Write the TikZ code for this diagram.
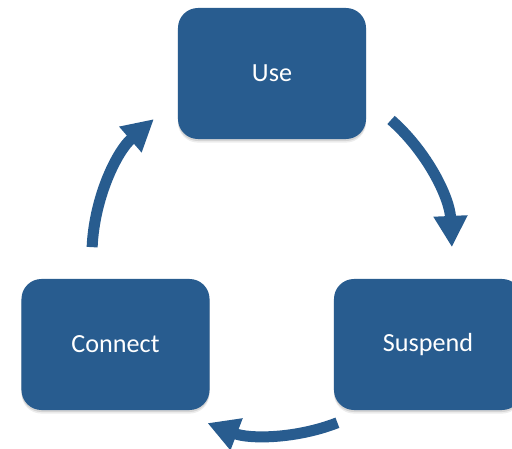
\documentclass[tikz,border=0pt]{standalone}
\usepackage{fontspec}
\setmainfont{Carlito}
\usetikzlibrary{arrows.meta,shadows}
\definecolor{boxblue}{RGB}{40,92,143}
\tikzset{
  stagebox/.style={fill=boxblue, rounded corners=0.5cm, minimum width=4.7cm, minimum height=3.275cm,
    text=white, font=\fontsize{18.6}{22}\selectfont,
    drop shadow={shadow xshift=0cm, shadow yshift=-0.09cm, opacity=0.07, fill=black},
    drop shadow={shadow xshift=0cm, shadow yshift=-0.05cm, opacity=0.1, fill=black}},
  cyclearrow/.style={draw=boxblue, line width=0.275cm, -{Triangle[length=0.78cm, width=0.8cm]}}
}
\begin{document}
\begin{tikzpicture}[x=0.025cm, y=0.025cm]
            \clip (0,0) rectangle (512,448);
            \coordinate (hub) at (272, 193);
            \node[stagebox] (use) at (272, 374.5) {Use};
            \node[stagebox] (connect) at (115.5, 103.5) {Connect};
            \node[stagebox] (suspend) at (428, 103.5) {Suspend};

            \draw[cyclearrow] ([shift={(48.6:4.5cm)}]hub) arc[start angle=48.6, end angle=2.5, radius=4.5cm];
            \draw[cyclearrow] ([shift={(-68.7:4.5cm)}]hub) arc[start angle=-68.7, end angle=-111, radius=4.5cm];
            \draw[cyclearrow] ([shift={(177.5:4.5cm)}]hub) arc[start angle=177.5, end angle=131, radius=4.5cm];
        \end{tikzpicture}
\end{document}
